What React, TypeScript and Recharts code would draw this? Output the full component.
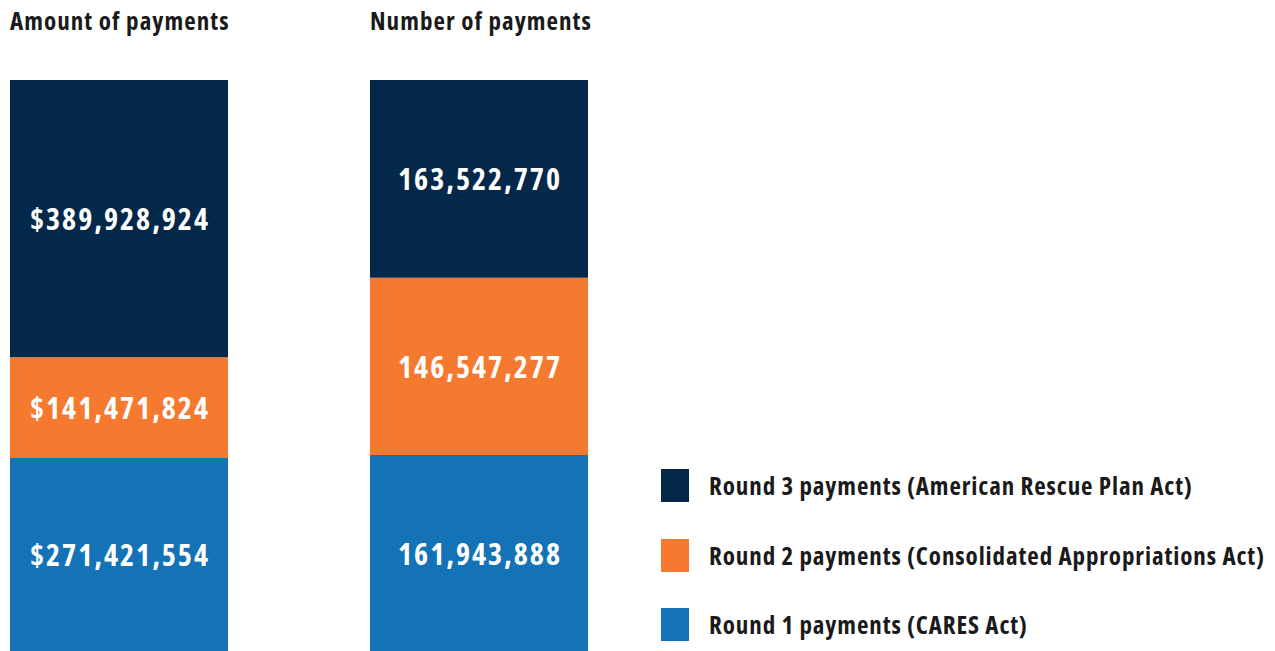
import React from "react";
import { BarChart, Bar, XAxis, YAxis, LabelList, Legend } from "recharts";

const categories = ["Amount of payments", "Number of payments"];
const valuePrefixes = ["$", ""];
const round1 = [271421554, 161943888];
const round2 = [141471824, 146547277];
const round3 = [389928924, 163522770];

const seriesNames = {
  round3: "Round 3 payments (American Rescue Plan Act)",
  round2: "Round 2 payments (Consolidated Appropriations Act)",
  round1: "Round 1 payments (CARES Act)",
};
const colors = { round1: "#1473B6", round2: "#F5792F", round3: "#04284A" };

const data = categories.map((name, i) => ({
  name,
  round1: round1[i],
  round2: round2[i],
  round3: round3[i],
}));

const FONT = "'Open Sans', 'Liberation Sans Narrow', sans-serif";

const ValueLabel = (props: any) => {
  const { x, y, width, height, value, index } = props;
  const txt = valuePrefixes[index] + Number(value).toLocaleString("en-US");
  return (
    <text
      x={x + width / 2 + 1}
      y={y + height / 2}
      textAnchor="middle"
      dominantBaseline="central"
      fill="#ffffff"
      style={{ fontFamily: FONT, fontWeight: 700, fontSize: 30, fontStretch: "condensed", letterSpacing: 2 }}
    >
      {txt}
    </text>
  );
};

const TitleLabel = (props: any) => {
  const { x, y, value } = props;
  return (
    <text
      x={x}
      y={y - 60}
      textAnchor="start"
      dominantBaseline="central"
      fill="#1a1a1a"
      style={{ fontFamily: FONT, fontWeight: 700, fontSize: 25, fontStretch: "condensed", letterSpacing: 1.05 }}
    >
      {value}
    </text>
  );
};

const legendOrder: ("round3" | "round2" | "round1")[] = ["round3", "round2", "round1"];

const LegendContent = () => (
  <div style={{ fontFamily: FONT, position: "relative", width: 616, height: 174 }}>
    {legendOrder.map((k, i) => (
      <div
        key={k}
        style={{ position: "absolute", left: 0, top: i * 69.5, display: "flex", alignItems: "center", height: 33 }}
      >
        <div style={{ width: 28, height: 33, background: colors[k], marginRight: 20, flex: "none" }} />
        <span style={{ fontSize: 25, fontWeight: 700, color: "#1a1a1a", fontStretch: "condensed", letterSpacing: 0.9, whiteSpace: "nowrap", lineHeight: "33px" }}>
          {seriesNames[k]}
        </span>
      </div>
    ))}
  </div>
);

export default function App() {
  return (
    <div style={{ position: "absolute", left: 0, top: 0, width: 1275, height: 651, overflow: "hidden", background: "#fff" }}>
      <div style={{ position: "absolute", left: -61, top: 0 }}>
        <BarChart
          width={1336}
          height={651}
          data={data}
          stackOffset="expand"
          barSize={218}
          margin={{ top: 80, right: 0, bottom: 0, left: 0 }}
        >
          <XAxis dataKey="name" hide />
          <YAxis hide domain={[0, 1]} />
          <Bar dataKey="round1" stackId="a" fill={colors.round1} isAnimationActive={false}>
            <LabelList dataKey="round1" content={ValueLabel} />
          </Bar>
          <Bar dataKey="round2" stackId="a" fill={colors.round2} isAnimationActive={false}>
            <LabelList dataKey="round2" content={ValueLabel} />
          </Bar>
          <Bar dataKey="round3" stackId="a" fill={colors.round3} isAnimationActive={false}>
            <LabelList dataKey="round3" content={ValueLabel} />
            <LabelList dataKey="name" content={TitleLabel} />
          </Bar>
          <Legend
            layout="vertical"
            align="right"
            verticalAlign="middle"
            content={LegendContent}
            wrapperStyle={{ position: "absolute", left: 722, top: 469, right: "auto", bottom: "auto", width: 616, height: 174 }}
          />
        </BarChart>
      </div>
    </div>
  );
}
